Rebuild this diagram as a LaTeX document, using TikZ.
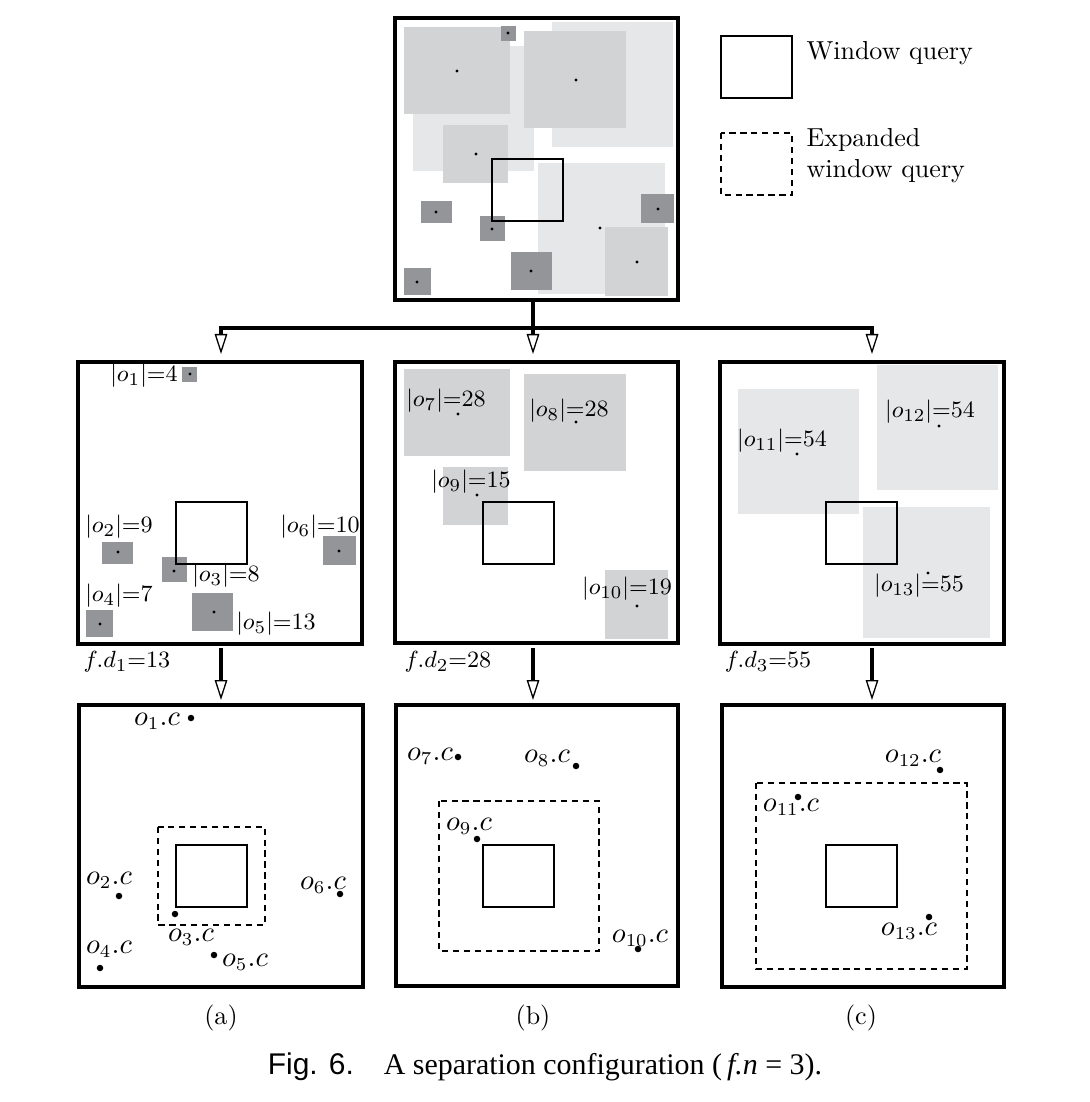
\documentclass[tikz,border=0pt]{standalone}
\usepackage{fontspec}
\newfontfamily\capsans{Liberation Sans}
\newfontfamily\capserif{Liberation Serif}
\usetikzlibrary{arrows.meta}
\definecolor{objdark}{HTML}{939598}
\definecolor{objmid}{HTML}{D1D3D4}
\definecolor{objlight}{HTML}{E6E7E8}

\begin{document}
\begin{tikzpicture}[x=0.0135cm,y=-0.0135cm,
    frame/.style={line width=1.25pt},
    win/.style={line width=0.9pt},
    ewin/.style={line width=1pt,dash pattern=on 2.4pt off 1.8pt},
    lab/.style={inner sep=0pt,font=\fontsize{9.5}{11}\selectfont},
    clab/.style={inner sep=0pt,font=\fontsize{10.5}{12}\selectfont},
    flow/.style={line width=1.25pt,-{Triangle[open,length=0.27cm,width=0.17cm,line width=0.5pt]}},
    sdot/.style={radius=0.65pt},
    bdot/.style={radius=1.25pt}]
    \useasboundingbox (0,0) rectangle (1089,1102);

    % whole data set
    \fill[objlight] (413,46) rectangle (534,171);
    \fill (472,111) circle[sdot];
    \fill[objlight] (552,22) rectangle (673,147);
    \fill (614,83) circle[sdot];
    \fill[objlight] (538,163) rectangle (665,294);
    \fill (600,228) circle[sdot];
    \fill[objmid] (404,27) rectangle (510,114);
    \fill (457,71) circle[sdot];
    \fill[objmid] (524,31) rectangle (626,128);
    \fill (576,80) circle[sdot];
    \fill[objmid] (443,125) rectangle (508,183);
    \fill (476,154) circle[sdot];
    \fill[objmid] (605,227) rectangle (668,296);
    \fill (637,262) circle[sdot];
    \fill[objdark] (501,26) rectangle (516,41);
    \fill (508,33) circle[sdot];
    \fill[objdark] (421,201) rectangle (452,223);
    \fill (436,212) circle[sdot];
    \fill[objdark] (480,216) rectangle (505,241);
    \fill (492,229) circle[sdot];
    \fill[objdark] (404,268) rectangle (431,295);
    \fill (417,282) circle[sdot];
    \fill[objdark] (511,252) rectangle (552,290);
    \fill (531,271) circle[sdot];
    \fill[objdark] (641,194) rectangle (674,223);
    \fill (658,209) circle[sdot];
    \draw[win] (492,159) rectangle (563,221);
    \draw[frame] (395,18) rectangle (678,300);

    % legend
    \draw[win] (721,36) rectangle (792,98);
    \node[anchor=west,inner sep=0pt] (lwq) at (806,53) {Window query};
    \draw[ewin] (721,133) rectangle (792,195);
    \node[anchor=west,inner sep=0pt,align=left] (lewq) at (806,156) {Expanded\\window query};

    % split into three groups
    \coordinate (tq) at (533,300);
    \coordinate (fork) at (533,328);
    \coordinate (ina) at (221,354);
    \coordinate (inb) at (533,354);
    \coordinate (inc) at (872,354);
    \draw[line width=1.25pt] (tq) -- (fork);
    \draw[flow] (fork) -| (ina);
    \draw[flow] (fork) -- (inb);
    \draw[flow] (fork) -| (inc);

    % group a
    \fill[objdark] (182,367) rectangle (197,382);
    \fill (190,374) circle[sdot];
    \fill[objdark] (102,542) rectangle (133,564);
    \fill (118,552) circle[sdot];
    \fill[objdark] (162,557) rectangle (187,582);
    \fill (174,571) circle[sdot];
    \fill[objdark] (86,610) rectangle (113,637);
    \fill (100,624) circle[sdot];
    \fill[objdark] (192,593) rectangle (233,631);
    \fill (214,612) circle[sdot];
    \fill[objdark] (323,536) rectangle (356,565);
    \fill (339,551) circle[sdot];
    \draw[win] (176,502) rectangle (247,564);
    \draw[frame] (78,362) rectangle (362,644);
    \node[lab] (sa1) at (144,376) {$|o_1|{=}4$};
    \node[lab] (sa2) at (119,527) {$|o_2|{=}9$};
    \node[lab] (sa3) at (226,576) {$|o_3|{=}8$};
    \node[lab] (sa4) at (119,596) {$|o_4|{=}7$};
    \node[lab] (sa5) at (276,624) {$|o_5|{=}13$};
    \node[lab] (sa6) at (320,527) {$|o_6|{=}10$};
    \node[lab] (da) at (127,662) {$f.d_1{=}13$};

    % group b
    \fill[objmid] (404,369) rectangle (510,456);
    \fill (458,414) circle[sdot];
    \fill[objmid] (524,374) rectangle (626,471);
    \fill (576,422) circle[sdot];
    \fill[objmid] (443,467) rectangle (508,525);
    \fill (477,495) circle[sdot];
    \fill[objmid] (605,570) rectangle (668,639);
    \fill (637,606) circle[sdot];
    \draw[win] (483,502) rectangle (554,564);
    \draw[frame] (395,362) rectangle (678,643);
    \node[lab] (sb7) at (446,401) {$|o_7|{=}28$};
    \node[lab] (sb8) at (569,411) {$|o_8|{=}28$};
    \node[lab] (sb9) at (471,482) {$|o_9|{=}15$};
    \node[lab] (sb10) at (627,589) {$|o_{10}|{=}19$};
    \node[lab] (db) at (448,662) {$f.d_2{=}28$};

    % group c
    \fill[objlight] (738,389) rectangle (859,514);
    \fill (797,454) circle[sdot];
    \fill[objlight] (877,365) rectangle (998,490);
    \fill (939,426) circle[sdot];
    \fill[objlight] (863,507) rectangle (990,638);
    \fill (928,573) circle[sdot];
    \draw[win] (826,502) rectangle (897,564);
    \draw[frame] (720,362) rectangle (1004,644);
    \node[lab] (sc11) at (782,441) {$|o_{11}|{=}54$};
    \node[lab] (sc12) at (930,412) {$|o_{12}|{=}54$};
    \node[lab] (sc13) at (919,586) {$|o_{13}|{=}55$};
    \node[lab] (dc) at (768,662) {$f.d_3{=}55$};

    % to centres
    \coordinate (outa) at (221,648);
    \coordinate (outb) at (533,648);
    \coordinate (outc) at (872,648);
    \coordinate (cena) at (221,700);
    \coordinate (cenb) at (533,700);
    \coordinate (cenc) at (872,700);
    \draw[flow] (outa) -- (cena);
    \draw[flow] (outb) -- (cenb);
    \draw[flow] (outc) -- (cenc);

    % centres a
    \draw[frame] (79,705) rectangle (363,987);
    \draw[ewin] (158,827) rectangle (265,925);
    \draw[win] (176,845) rectangle (247,907);
    \fill (191,718) circle[bdot];
    \fill (119,896) circle[bdot];
    \fill (175,914) circle[bdot];
    \fill (100,968) circle[bdot];
    \fill (214,955) circle[bdot];
    \fill (340,894) circle[bdot];
    \node[clab] (ca1) at (157,721) {$o_1.c$};
    \node[clab] (ca2) at (109,880) {$o_2.c$};
    \node[clab] (ca3) at (191,937) {$o_3.c$};
    \node[clab] (ca4) at (109,949) {$o_4.c$};
    \node[clab] (ca5) at (245,962) {$o_5.c$};
    \node[clab] (ca6) at (323,885) {$o_6.c$};
    \node (capa) at (221,1018) {(a)};

    % centres b
    \draw[frame] (396,705) rectangle (678,986);
    \draw[ewin] (439,801) rectangle (599,951);
    \draw[win] (483,845) rectangle (554,907);
    \fill (458,757) circle[bdot];
    \fill (576,766) circle[bdot];
    \fill (477,839) circle[bdot];
    \fill (638,949) circle[bdot];
    \node[clab] (cb7) at (430,756) {$o_7.c$};
    \node[clab] (cb8) at (547,758) {$o_8.c$};
    \node[clab] (cb9) at (469,826) {$o_9.c$};
    \node[clab] (cb10) at (640,938) {$o_{10}.c$};
    \node (capb) at (533,1018) {(b)};

    % centres c
    \draw[frame] (722,705) rectangle (1004,987);
    \draw[ewin] (756,783) rectangle (967,969);
    \draw[win] (826,845) rectangle (897,907);
    \fill (798,797) circle[bdot];
    \fill (940,770) circle[bdot];
    \fill (929,917) circle[bdot];
    \node[clab] (cc11) at (791,807) {$o_{11}.c$};
    \node[clab] (cc12) at (913,758) {$o_{12}.c$};
    \node[clab] (cc13) at (909,931) {$o_{13}.c$};
    \node (capc) at (861,1018) {(c)};

    \node[font=\fontsize{11.5}{13}\selectfont] (fig) at (545,1067)
        {{\capsans Fig. 6.}\quad{\capserif A separation configuration (\,\textit{f.n} = 3).}};
\end{tikzpicture}
\end{document}
